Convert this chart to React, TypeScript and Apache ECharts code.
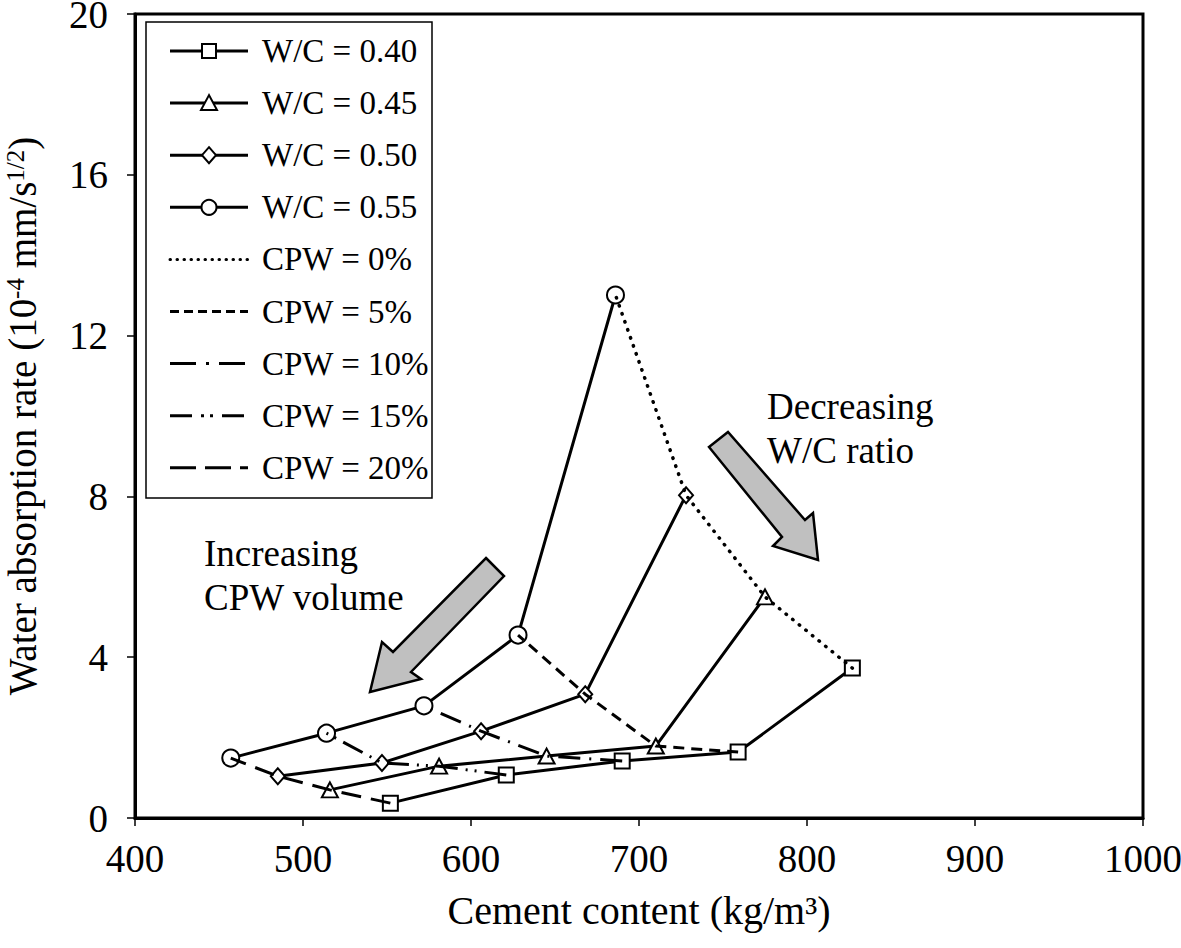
import React, { useEffect, useRef } from "react";
import * as echarts from "echarts";

// ---- Data ----
// Points of each W/C line, ordered CPW = 20%, 15%, 10%, 5%, 0%
const cementWC040 = [552, 621, 690, 759, 827];
const rateWC040 = [0.37, 1.07, 1.42, 1.64, 3.73];
const cementWC045 = [516, 581, 645, 710, 775];
const rateWC045 = [0.7, 1.29, 1.54, 1.79, 5.5];
const cementWC050 = [485, 547, 606, 668, 728];
const rateWC050 = [1.04, 1.37, 2.16, 3.08, 8.03];
const cementWC055 = [457, 514, 572, 628, 686];
const rateWC055 = [1.49, 2.11, 2.79, 4.55, 13.01];

const wcNames = ["W/C = 0.40", "W/C = 0.45", "W/C = 0.50", "W/C = 0.55"];
const cpwNames = ["CPW = 0%", "CPW = 5%", "CPW = 10%", "CPW = 15%", "CPW = 20%"];
// index of each CPW level inside the W/C point arrays
const cpwIndex = [4, 3, 2, 1, 0];

const xMin = 400;
const xMax = 1000;
const xStep = 100;
const yMin = 0;
const yMax = 20;
const yStep = 4;

const xTitle = "Cement content (kg/m³)";
const annotDecreasing = ["Decreasing", "W/C ratio"];
const annotIncreasing = ["Increasing", "CPW volume"];

// ---- Styles ----
const FONT = "Liberation Serif";
const wcCement = [cementWC040, cementWC045, cementWC050, cementWC055];
const wcRate = [rateWC040, rateWC045, rateWC050, rateWC055];
const wcSymbols = ["rect", "triangle", "diamond", "circle"];
const wcSymbolSizes: any[] = [15, [16, 15], [14, 16], 17];
const cpwDash: any[] = [
  [0.5, 8],
  [11, 7],
  [22, 9, 2, 9],
  [22, 8, 2, 7, 2, 8],
  [20, 10],
];
const legendDash: any[] = [
  [0.5, 6.5],
  [9, 5],
  [26, 10, 3, 10],
  [22, 9, 3, 6, 3, 9],
  [26, 9, 26, 9],
];

export default function App() {
  const ref = useRef<HTMLDivElement>(null);

  useEffect(() => {
    document.body.style.margin = "0";
    if (!ref.current) return;
    const chart = echarts.init(ref.current, undefined, { renderer: "svg" });

    const series: any[] = [];
    wcNames.forEach((name, i) => {
      series.push({
        name,
        type: "line",
        z: 2,
        data: wcCement[i].map((c, k) => [c, wcRate[i][k]]),
        symbol: wcSymbols[i],
        symbolSize: wcSymbolSizes[i],
        showAllSymbol: true,
        lineStyle: { color: "#000", width: 3 },
        itemStyle: { color: "#fff", borderColor: "#000", borderWidth: 2 },
      });
    });
    cpwNames.forEach((name, j) => {
      const idx = cpwIndex[j];
      series.push({
        name,
        type: "line",
        z: 3,
        data: wcNames.map((_, i) => [wcCement[i][idx], wcRate[i][idx]]),
        symbol: "none",
        lineStyle: {
          color: "#000",
          width: j === 0 ? 3.5 : 3,
          type: cpwDash[j],
          cap: j === 0 ? "round" : "butt",
        },
      });
    });

    const txt = (text: string, x: number, y: number, size: number, z: number) => ({
      type: "text",
      x,
      y,
      z,
      style: {
        text,
        fontFamily: FONT,
        fontSize: size,
        fill: "#000",
        verticalAlign: "middle",
      },
    });

    // legend built as graphics
    const legendEls: any[] = [
      {
        type: "rect",
        shape: { x: 146, y: 22, width: 286, height: 476 },
        style: { fill: "#fff", stroke: "#000", lineWidth: 1.5 },
        z: 10,
      },
    ];
    const rowY = (r: number) => 51 + r * 52.1;
    wcNames.forEach((name, i) => {
      const y = rowY(i);
      legendEls.push({
        type: "line",
        shape: { x1: 170, y1: y, x2: 248, y2: y },
        style: { stroke: "#000", lineWidth: 3 },
        z: 11,
      });
      const s = 14;
      if (i === 0) {
        legendEls.push({ type: "rect", shape: { x: 209 - 7, y: y - 7, width: s, height: s }, style: { fill: "#fff", stroke: "#000", lineWidth: 2 }, z: 12 });
      } else if (i === 1) {
        legendEls.push({ type: "polygon", shape: { points: [[209, y - 8], [201, y + 7], [217, y + 7]] }, style: { fill: "#fff", stroke: "#000", lineWidth: 2 }, z: 12 });
      } else if (i === 2) {
        legendEls.push({ type: "polygon", shape: { points: [[209, y - 8], [216, y], [209, y + 8], [202, y]] }, style: { fill: "#fff", stroke: "#000", lineWidth: 2 }, z: 12 });
      } else {
        legendEls.push({ type: "circle", shape: { cx: 209, cy: y, r: 7.5 }, style: { fill: "#fff", stroke: "#000", lineWidth: 2 }, z: 12 });
      }
      legendEls.push(txt(name, 262, y, 33, 12));
    });
    cpwNames.forEach((name, j) => {
      const y = rowY(4 + j);
      legendEls.push({
        type: "line",
        shape: { x1: 170, y1: y, x2: 248, y2: y },
        style: {
          stroke: "#000",
          lineWidth: 3,
          lineDash: legendDash[j],
          lineCap: j === 0 ? "round" : "butt",
        },
        z: 11,
      });
      legendEls.push(txt(name, 262, y, 33, 12));
    });

    const arrowStyle = { fill: "#c0c0c0", stroke: "#000", lineWidth: 2.5 };
    const annotEls: any[] = [
      {
        type: "polygon",
        shape: { points: [[709, 447], [728, 432], [805, 520], [813, 513], [818, 560], [773, 546], [782, 537]] },
        style: arrowStyle,
        z: 9,
      },
      {
        type: "polygon",
        shape: { points: [[486, 558], [504, 576], [411, 672], [421, 679], [370, 692], [382, 642], [393, 652]] },
        style: arrowStyle,
        z: 9,
      },
      txt(annotDecreasing[0], 767, 406, 37, 9),
      txt(annotDecreasing[1], 767, 450, 37, 9),
      txt(annotIncreasing[0], 204, 553, 37, 9),
      txt(annotIncreasing[1], 204, 597, 37, 9),
    ];

    chart.setOption({
      animation: false,
      backgroundColor: "#fff",
      textStyle: { fontFamily: FONT, color: "#000" },
      grid: {
        left: 135,
        right: 38,
        top: 14,
        bottom: 130,
        outerBoundsMode: "none",
        containLabel: false,
        show: true,
        borderColor: "#000",
        borderWidth: 3,
        backgroundColor: "transparent",
      },
      xAxis: {
        type: "value",
        min: xMin,
        max: xMax,
        interval: xStep,
        splitLine: { show: false },
        axisLine: { show: true, onZero: false, lineStyle: { color: "#000", width: 3 } },
        axisTick: { show: true, inside: false, length: 8, lineStyle: { color: "#000", width: 1.5 } },
        axisLabel: { fontFamily: FONT, fontSize: 39, color: "#000", margin: 21, formatter: (v: number) => String(v) },
        name: xTitle,
        nameLocation: "middle",
        nameGap: 72,
        nameTextStyle: { fontFamily: FONT, fontSize: 40, color: "#000" },
      },
      yAxis: {
        type: "value",
        min: yMin,
        max: yMax,
        interval: yStep,
        splitLine: { show: false },
        axisLine: { show: true, onZero: false, lineStyle: { color: "#000", width: 3 } },
        axisTick: { show: true, inside: false, length: 8, lineStyle: { color: "#000", width: 1.5 } },
        axisLabel: { fontFamily: FONT, fontSize: 39, color: "#000", margin: 27, formatter: (v: number) => String(v) },
        name: "{m|Water absorption rate (10}{s|-4}{m| mm/s}{s|1/2}{m|)}",
        nameLocation: "middle",
        nameRotate: 90,
        nameGap: 93,
        nameTextStyle: {
          fontFamily: FONT,
          color: "#000",
          rich: {
            m: { fontFamily: FONT, fontSize: 39, color: "#000", lineHeight: 40, verticalAlign: "bottom" },
            s: { fontFamily: FONT, fontSize: 25, color: "#000", lineHeight: 40, verticalAlign: "top", padding: [1, 0, 0, 0] },
          },
        },
      },
      graphic: [...annotEls, ...legendEls],
      series,
    });

    return () => chart.dispose();
  }, []);

  return <div ref={ref} style={{ width: 1181, height: 948 }} />;
}
